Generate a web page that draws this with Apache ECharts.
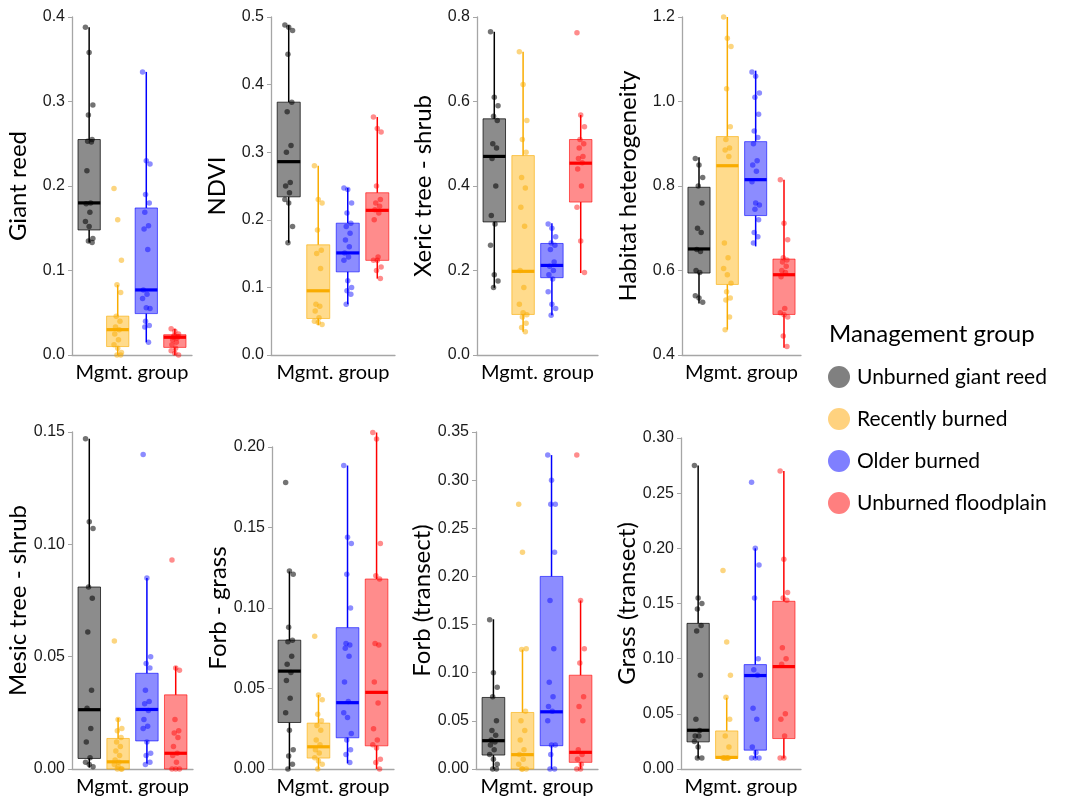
<!DOCTYPE html>
<html><head><meta charset="utf-8">
<script src="https://cdn.jsdelivr.net/npm/echarts@6/dist/echarts.min.js"></script>
<style>html,body{margin:0;padding:0;background:#fff}#c{width:1066px;height:798px}</style>
</head><body><div id="c"></div>
<script>
// ---------- data ----------
const groups = ['Unburned giant reed', 'Recently burned', 'Older burned', 'Unburned floodplain'];
const panelNames = ['Giant reed', 'NDVI', 'Xeric tree - shrub', 'Habitat heterogeneity',
  'Mesic tree - shrub', 'Forb - grass', 'Forb (transect)', 'Grass (transect)'];
const xAxisName = 'Mgmt. group';
const yMins = [0, 0, 0, 0.4, 0, 0, 0, 0];
const yMaxs = [0.4, 0.5, 0.8, 1.2, 0.15, 0.2, 0.35, 0.3];
const ySteps = [0.1, 0.1, 0.2, 0.2, 0.05, 0.05, 0.05, 0.05];
const yDecimals = [1, 1, 1, 1, 2, 2, 2, 2];

// box stats per group: [lower whisker, Q1, median, Q3, upper whisker]
const boxGiantReed = [[0.133, 0.148, 0.180, 0.255, 0.388], [0.0, 0.010, 0.030, 0.046, 0.083], [0.015, 0.049, 0.077, 0.174, 0.335], [0.0, 0.009, 0.021, 0.024, 0.031]];
const boxNDVI = [[0.166, 0.234, 0.286, 0.374, 0.488], [0.044, 0.054, 0.095, 0.163, 0.280], [0.075, 0.123, 0.151, 0.195, 0.247], [0.113, 0.140, 0.214, 0.240, 0.352]];
const boxXeric = [[0.159, 0.315, 0.470, 0.559, 0.765], [0.055, 0.096, 0.198, 0.472, 0.718], [0.094, 0.183, 0.212, 0.264, 0.312], [0.194, 0.362, 0.454, 0.510, 0.568]];
const boxHabitat = [[0.522, 0.594, 0.651, 0.797, 0.868], [0.460, 0.567, 0.848, 0.917, 1.200], [0.657, 0.730, 0.815, 0.905, 1.073], [0.417, 0.496, 0.590, 0.627, 0.815]];
const boxMesic = [[0.0006, 0.0047, 0.0264, 0.081, 0.147], [0.0, 0.0, 0.0032, 0.0136, 0.0227], [0.0025, 0.0125, 0.0265, 0.0426, 0.085], [0.0, 0.0, 0.007, 0.033, 0.0457]];
const boxForbGrass = [[0.0, 0.0289, 0.0608, 0.080, 0.1227], [0.0, 0.0068, 0.0138, 0.0285, 0.046], [0.0035, 0.0194, 0.0412, 0.0878, 0.1885], [0.0, 0.0144, 0.0476, 0.118, 0.209]];
const boxForbTransect = [[0.0, 0.0145, 0.0294, 0.0743, 0.1555], [0.0, 0.0, 0.0149, 0.0587, 0.124], [0.0, 0.0242, 0.0594, 0.200, 0.326], [0.0, 0.0069, 0.0173, 0.0974, 0.175]];
const boxGrassTransect = [[0.0096, 0.0246, 0.0351, 0.132, 0.275], [0.0096, 0.0096, 0.0105, 0.0345, 0.0646], [0.0096, 0.0171, 0.0847, 0.0946, 0.200], [0.0096, 0.0276, 0.0928, 0.152, 0.270]];

// individual site values per group
const ptsGiantReed = [
  [0.388, 0.358, 0.296, 0.284, 0.255, 0.253, 0.252, 0.218, 0.180, 0.179, 0.169, 0.158, 0.152, 0.138, 0.135, 0.133],
  [0.197, 0.160, 0.112, 0.083, 0.074, 0.046, 0.040, 0.033, 0.030, 0.025, 0.018, 0.012, 0.008, 0.003, 0.0, 0.0],
  [0.335, 0.230, 0.226, 0.190, 0.180, 0.169, 0.153, 0.149, 0.125, 0.077, 0.072, 0.067, 0.056, 0.055, 0.040, 0.035, 0.033, 0.015],
  [0.031, 0.028, 0.025, 0.023, 0.022, 0.021, 0.020, 0.018, 0.015, 0.012, 0.008, 0.005, 0.002, 0.0]];
const ptsNDVI = [
  [0.488, 0.485, 0.480, 0.445, 0.374, 0.360, 0.310, 0.300, 0.255, 0.250, 0.240, 0.230, 0.225, 0.190, 0.166],
  [0.280, 0.230, 0.225, 0.185, 0.155, 0.150, 0.128, 0.075, 0.072, 0.065, 0.055, 0.050, 0.048, 0.045],
  [0.247, 0.245, 0.225, 0.210, 0.195, 0.190, 0.180, 0.170, 0.160, 0.151, 0.145, 0.140, 0.110, 0.100, 0.095, 0.090, 0.075],
  [0.352, 0.335, 0.330, 0.250, 0.230, 0.225, 0.220, 0.215, 0.210, 0.200, 0.145, 0.140, 0.140, 0.130, 0.125, 0.113]];
const ptsXeric = [
  [0.765, 0.610, 0.590, 0.565, 0.555, 0.500, 0.490, 0.465, 0.400, 0.330, 0.310, 0.260, 0.190, 0.175, 0.160],
  [0.718, 0.640, 0.555, 0.510, 0.480, 0.420, 0.395, 0.350, 0.305, 0.200, 0.160, 0.120, 0.100, 0.095, 0.090, 0.075, 0.065, 0.055],
  [0.310, 0.300, 0.280, 0.265, 0.260, 0.250, 0.220, 0.210, 0.200, 0.190, 0.180, 0.150, 0.120, 0.110, 0.094],
  [0.763, 0.568, 0.540, 0.510, 0.500, 0.490, 0.470, 0.465, 0.455, 0.440, 0.400, 0.350, 0.270, 0.195]];
const ptsHabitat = [
  [0.865, 0.850, 0.820, 0.800, 0.760, 0.700, 0.690, 0.650, 0.645, 0.600, 0.595, 0.540, 0.535, 0.525],
  [1.200, 1.150, 1.130, 1.030, 0.940, 0.910, 0.890, 0.885, 0.870, 0.665, 0.630, 0.605, 0.590, 0.570, 0.550, 0.535, 0.530, 0.490, 0.460],
  [1.070, 1.060, 1.020, 1.010, 0.970, 0.930, 0.915, 0.900, 0.860, 0.850, 0.835, 0.810, 0.760, 0.755, 0.745, 0.720, 0.690, 0.680, 0.665],
  [0.815, 0.712, 0.673, 0.630, 0.625, 0.620, 0.610, 0.600, 0.595, 0.585, 0.510, 0.500, 0.495, 0.490, 0.445, 0.420]];
const ptsMesic = [
  [0.147, 0.110, 0.107, 0.081, 0.076, 0.061, 0.035, 0.027, 0.018, 0.012, 0.005, 0.003, 0.002, 0.001],
  [0.057, 0.022, 0.018, 0.017, 0.014, 0.012, 0.010, 0.008, 0.006, 0.004, 0.003, 0.002, 0.001, 0.0, 0.0, 0.0],
  [0.140, 0.085, 0.050, 0.047, 0.045, 0.035, 0.030, 0.029, 0.026, 0.022, 0.019, 0.018, 0.012, 0.007, 0.006, 0.003, 0.002],
  [0.093, 0.045, 0.044, 0.022, 0.017, 0.016, 0.014, 0.010, 0.007, 0.006, 0.003, 0.0, 0.0, 0.0]];
const ptsForbGrass = [
  [0.178, 0.123, 0.121, 0.088, 0.080, 0.079, 0.070, 0.065, 0.060, 0.055, 0.044, 0.035, 0.024, 0.012, 0.008, 0.003, 0.0],
  [0.0825, 0.046, 0.043, 0.034, 0.030, 0.027, 0.024, 0.018, 0.015, 0.012, 0.010, 0.007, 0.005, 0.003, 0.0],
  [0.1885, 0.144, 0.140, 0.121, 0.100, 0.078, 0.077, 0.075, 0.070, 0.054, 0.042, 0.035, 0.032, 0.022, 0.018, 0.012, 0.009, 0.004],
  [0.209, 0.205, 0.140, 0.120, 0.118, 0.078, 0.077, 0.054, 0.041, 0.025, 0.018, 0.015, 0.013, 0.006, 0.004, 0.0]];
const ptsForbTransect = [
  [0.155, 0.100, 0.085, 0.075, 0.050, 0.040, 0.035, 0.030, 0.028, 0.025, 0.020, 0.015, 0.010, 0.005, 0.0, 0.0],
  [0.275, 0.225, 0.125, 0.124, 0.060, 0.050, 0.040, 0.030, 0.020, 0.015, 0.010, 0.005, 0.0, 0.0, 0.0],
  [0.326, 0.300, 0.275, 0.275, 0.225, 0.175, 0.125, 0.090, 0.075, 0.065, 0.060, 0.050, 0.025, 0.025, 0.015, 0.0, 0.0],
  [0.326, 0.175, 0.125, 0.110, 0.075, 0.065, 0.050, 0.020, 0.015, 0.010, 0.005, 0.0, 0.0]];
const ptsGrassTransect = [
  [0.275, 0.155, 0.150, 0.145, 0.130, 0.125, 0.085, 0.045, 0.035, 0.030, 0.030, 0.025, 0.020, 0.010, 0.010],
  [0.180, 0.115, 0.085, 0.065, 0.045, 0.030, 0.020, 0.010, 0.010, 0.010, 0.010, 0.010, 0.010],
  [0.260, 0.200, 0.185, 0.155, 0.100, 0.090, 0.085, 0.055, 0.045, 0.020, 0.015, 0.010, 0.010, 0.010],
  [0.270, 0.190, 0.160, 0.155, 0.153, 0.110, 0.100, 0.095, 0.050, 0.045, 0.030, 0.010, 0.010]];

const allBoxes = [boxGiantReed, boxNDVI, boxXeric, boxHabitat, boxMesic, boxForbGrass, boxForbTransect, boxGrassTransect];
const allPts = [ptsGiantReed, ptsNDVI, ptsXeric, ptsHabitat, ptsMesic, ptsForbGrass, ptsForbTransect, ptsGrassTransect];

// ---------- layout & style ----------
const grids = [
  {left: 72, top: 17, width: 120, height: 338},
  {left: 271, top: 17, width: 124, height: 338},
  {left: 477, top: 17, width: 121, height: 338},
  {left: 682, top: 17, width: 119, height: 338},
  {left: 72, top: 432, width: 121, height: 339},
  {left: 272, top: 447, width: 122, height: 324},
  {left: 476, top: 432, width: 122, height: 339},
  {left: 681, top: 438, width: 120, height: 333}
];
const lineColors = ['#000000', '#F9AC00', '#0000FF', '#FF0000'];
const fillColors = ['rgba(0,0,0,0.45)', 'rgba(255,176,0,0.45)', 'rgba(0,0,255,0.45)', 'rgba(255,0,0,0.45)'];
const borderColors = ['rgba(0,0,0,0.7)', 'rgba(249,172,0,0.6)', 'rgba(0,0,255,0.6)', 'rgba(255,0,0,0.6)'];
const legendColors = ['#808080', '#FFD27F', '#7F7FFF', '#FF7F7F'];
const pointOpacity = [0.55, 0.5, 0.45, 0.45];
const nameFont = 'Lato, "Open Sans", sans-serif';
const tickFont = '"Liberation Sans", Arial, sans-serif';
const halfBox = 0.39;

function jitter(i) { return (((i * 5) % 11) - 5) * 0.026; }

const option = {
  animation: false,
  backgroundColor: '#ffffff',
  grid: [], xAxis: [], yAxis: [], series: [],
  title: {text: 'Management group', left: 824, top: 317,
    textStyle: {fontFamily: nameFont, fontSize: 24, fontWeight: 'normal', color: '#000'}},
  legend: {
    orient: 'vertical', left: 823, top: 361, itemWidth: 22, itemHeight: 22, itemGap: 20,
    icon: 'circle', selectedMode: false,
    textStyle: {fontFamily: nameFont, fontSize: 21, color: '#000', padding: [0, 0, 0, 2]},
    data: groups.map((g, i) => ({name: g, itemStyle: {color: legendColors[i], opacity: 1, borderWidth: 0}}))
  }
};

allBoxes.forEach((boxes, p) => {
  option.grid.push(Object.assign({containLabel: false}, grids[p]));
  option.xAxis.push({
    gridIndex: p, type: 'value', min: 0.4, max: 4.6,
    axisLine: {show: true, lineStyle: {color: '#a6a6a6', width: 1.3}},
    axisTick: {show: false}, axisLabel: {show: false}, splitLine: {show: false},
    name: xAxisName, nameLocation: 'middle', nameGap: 8,
    nameTextStyle: {fontFamily: nameFont, fontSize: 20, color: '#000', verticalAlign: 'top'}
  });
  option.yAxis.push({
    gridIndex: p, type: 'value', min: yMins[p], max: yMaxs[p], interval: ySteps[p],
    axisLine: {show: true, lineStyle: {color: '#a6a6a6', width: 1.3}},
    axisTick: {show: true, length: 4, lineStyle: {color: '#a6a6a6'}},
    axisLabel: {fontFamily: tickFont, fontSize: 16, color: '#1a1a1a', margin: 7,
      formatter: v => v.toFixed(yDecimals[p])},
    splitLine: {show: false},
    name: panelNames[p], nameLocation: 'middle', nameGap: 42,
    nameTextStyle: {fontFamily: nameFont, fontSize: 24, color: '#000'}
  });
  boxes.forEach((b, g) => {
    option.series.push({
      type: 'custom', name: groups[g], xAxisIndex: p, yAxisIndex: p, clip: false,
      encode: {x: 0, y: [1, 2, 3, 4, 5]},
      data: [[g + 1].concat(b)],
      renderItem: function (params, api) {
        const x = api.value(0);
        const lo = api.value(1), q1 = api.value(2), md = api.value(3), q3 = api.value(4), hi = api.value(5);
        const pLo = api.coord([x, lo]), pQ1 = api.coord([x, q1]), pQ3 = api.coord([x, q3]), pHi = api.coord([x, hi]);
        const tl = api.coord([x - halfBox, q3]), br = api.coord([x + halfBox, q1]);
        const mL = api.coord([x - halfBox, md]), mR = api.coord([x + halfBox, md]);
        return {type: 'group', children: [
          {type: 'line', shape: {x1: pHi[0], y1: pHi[1], x2: pQ3[0], y2: pQ3[1]}, style: {stroke: lineColors[g], lineWidth: 1.5}},
          {type: 'line', shape: {x1: pQ1[0], y1: pQ1[1], x2: pLo[0], y2: pLo[1]}, style: {stroke: lineColors[g], lineWidth: 1.5}},
          {type: 'rect', shape: {x: tl[0], y: tl[1], width: br[0] - tl[0], height: br[1] - tl[1]},
            style: {fill: fillColors[g], stroke: borderColors[g], lineWidth: 1}},
          {type: 'line', shape: {x1: mL[0], y1: mL[1], x2: mR[0], y2: mR[1]}, style: {stroke: lineColors[g], lineWidth: 3.2}}
        ]};
      }
    });
  });
  allPts[p].forEach((vals, g) => {
    option.series.push({
      type: 'scatter', name: groups[g], xAxisIndex: p, yAxisIndex: p, clip: false,
      symbol: 'circle', symbolSize: 5.5,
      itemStyle: {color: lineColors[g], opacity: pointOpacity[g]},
      data: vals.map((v, i) => [g + 1 + jitter(i), v])
    });
  });
});

const chart = echarts.init(document.getElementById('c'), null, {renderer: 'canvas'});
chart.setOption(option);
</script></body></html>
